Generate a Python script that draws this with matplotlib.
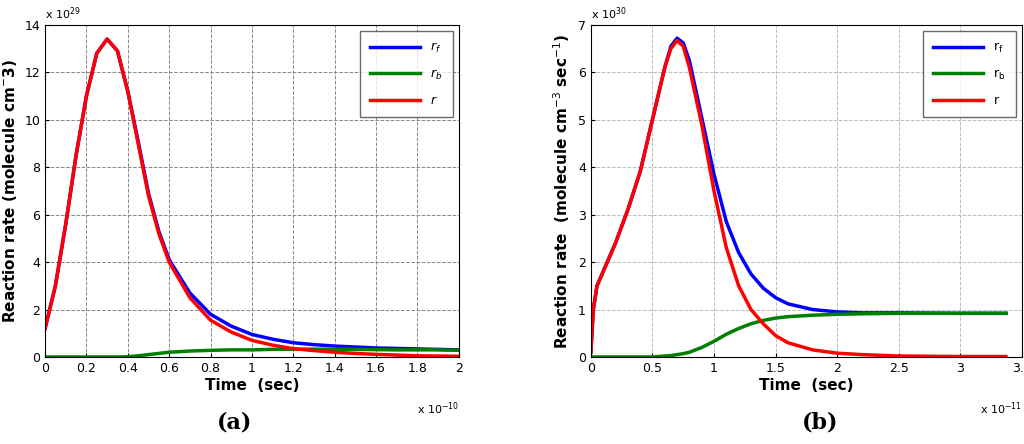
import matplotlib
matplotlib.use("Agg")
import matplotlib.pyplot as plt

# panel (a): time x1e-10 s, rates x1e29
ta = [0, 0.05, 0.1, 0.15, 0.2, 0.25, 0.3, 0.35, 0.4, 0.45, 0.5, 0.55, 0.6, 0.7, 0.8,
      0.9, 1.0, 1.1, 1.2, 1.3, 1.4, 1.5, 1.6, 1.7, 1.8, 1.9, 2.0]
rf_a = [1.2, 3.0, 5.6, 8.5, 11.0, 12.8, 13.4, 12.9, 11.2, 9.1, 6.9, 5.3, 4.1, 2.7, 1.8,
        1.3, 0.95, 0.75, 0.6, 0.52, 0.46, 0.42, 0.38, 0.36, 0.34, 0.32, 0.3]
rb_a = [0, 0, 0, 0, 0, 0, 0, 0, 0.01, 0.05, 0.1, 0.15, 0.2, 0.25, 0.28,
        0.3, 0.3, 0.32, 0.33, 0.33, 0.32, 0.32, 0.31, 0.3, 0.3, 0.3, 0.28]
r_a = [1.2, 3.0, 5.6, 8.5, 11.0, 12.8, 13.4, 12.9, 11.2, 9.0, 6.8, 5.2, 4.0, 2.5, 1.55,
       1.05, 0.7, 0.5, 0.35, 0.27, 0.2, 0.15, 0.11, 0.08, 0.05, 0.04, 0.03]

# panel (b): time x1e-11 s, rates x1e30
tb = [0, 0.02, 0.05, 0.1, 0.2, 0.3, 0.4, 0.5, 0.6, 0.65, 0.7, 0.75, 0.8, 0.9, 1.0,
      1.1, 1.2, 1.3, 1.4, 1.5, 1.6, 1.8, 2.0, 2.2, 2.5, 3.0, 3.37]
rf_b = [0.1, 1.0, 1.5, 1.8, 2.4, 3.1, 3.9, 5.0, 6.1, 6.55, 6.72, 6.62, 6.25, 5.05, 3.85,
        2.85, 2.2, 1.75, 1.45, 1.25, 1.12, 1.0, 0.95, 0.93, 0.93, 0.92, 0.92]
rb_b = [0, 0, 0, 0, 0, 0, 0, 0, 0.02, 0.03, 0.05, 0.07, 0.1, 0.2, 0.33,
        0.48, 0.6, 0.7, 0.77, 0.82, 0.85, 0.88, 0.9, 0.91, 0.92, 0.92, 0.92]
r_b = [0.1, 1.0, 1.5, 1.8, 2.4, 3.1, 3.9, 5.0, 6.1, 6.5, 6.67, 6.55, 6.1, 4.9, 3.5,
       2.3, 1.5, 1.0, 0.7, 0.45, 0.3, 0.15, 0.08, 0.05, 0.02, 0.01, 0.01]

xt_a = [0, 0.2, 0.4, 0.6, 0.8, 1, 1.2, 1.4, 1.6, 1.8, 2]
xl_a = ["0", "0.2", "0.4", "0.6", "0.8", "1", "1.2", "1.4", "1.6", "1.8", "2"]
yt_a = [0, 2, 4, 6, 8, 10, 12, 14]
xt_b = [0, 0.5, 1, 1.5, 2, 2.5, 3, 3.5]
xl_b = ["0", "0.5", "1", "1.5", "2", "2.5", "3", "3.5"]
yt_b = [0, 1, 2, 3, 4, 5, 6, 7]

fig = plt.figure(figsize=(10.24, 4.44), dpi=100)
ax1 = fig.add_axes([0.044, 0.196, 0.404, 0.748])
ax2 = fig.add_axes([0.577, 0.196, 0.421, 0.748])

def style(ax, t, series, labels, xt, xl, yt, xexp, yexp, ylabel, gridc):
    for ys, c, lab in zip(series, ["#0000ff", "#008000", "#ff0000"], labels):
        ax.plot(t, ys, color=c, lw=2.5, label=lab)
    ax.set_xlim(xt[0], xt[-1])
    ax.set_ylim(yt[0], yt[-1])
    ax.set_xticks(xt)
    ax.set_xticklabels(xl)
    ax.set_yticks(yt)
    ax.tick_params(direction="in", labelsize=9, length=3)
    ax.grid(True, linestyle="--", color=gridc, lw=0.7)
    ax.set_xlabel("Time  (sec)", fontsize=11, fontweight="bold", labelpad=2)
    ax.set_ylabel(ylabel, fontsize=11, fontweight="bold", labelpad=4)
    ax.text(0.0, 1.01, yexp, transform=ax.transAxes, fontsize=8, ha="left", va="bottom")
    ax.text(1.0, -0.13, xexp, transform=ax.transAxes, fontsize=8, ha="right", va="top")
    ax.legend(loc="upper right", fontsize=9, handlelength=4, fancybox=False,
              edgecolor="#444444", borderpad=0.8, labelspacing=1.0)

style(ax1, ta, [rf_a, rb_a, r_a], [r"$r_f$", r"$r_b$", r"$r$"], xt_a, xl_a, yt_a,
      r"x $10^{-10}$", r"x $10^{29}$", r"Reaction rate (molecule cm$^{-}$3)", "#888888")
style(ax2, tb, [rf_b, rb_b, r_b], [r"r$_\mathrm{f}$", r"r$_\mathrm{b}$", "r"], xt_b, xl_b, yt_b,
      r"x $10^{-11}$", r"x $10^{30}$", r"Reaction rate  (molecule cm$^{-3}$ sec$^{-1}$)", "#bbbbbb")

fig.text(0.229, 0.035, "(a)", fontsize=16, fontweight="bold", family="serif", ha="center")
fig.text(0.801, 0.035, "(b)", fontsize=16, fontweight="bold", family="serif", ha="center")

fig.savefig("out.png", dpi=100)
